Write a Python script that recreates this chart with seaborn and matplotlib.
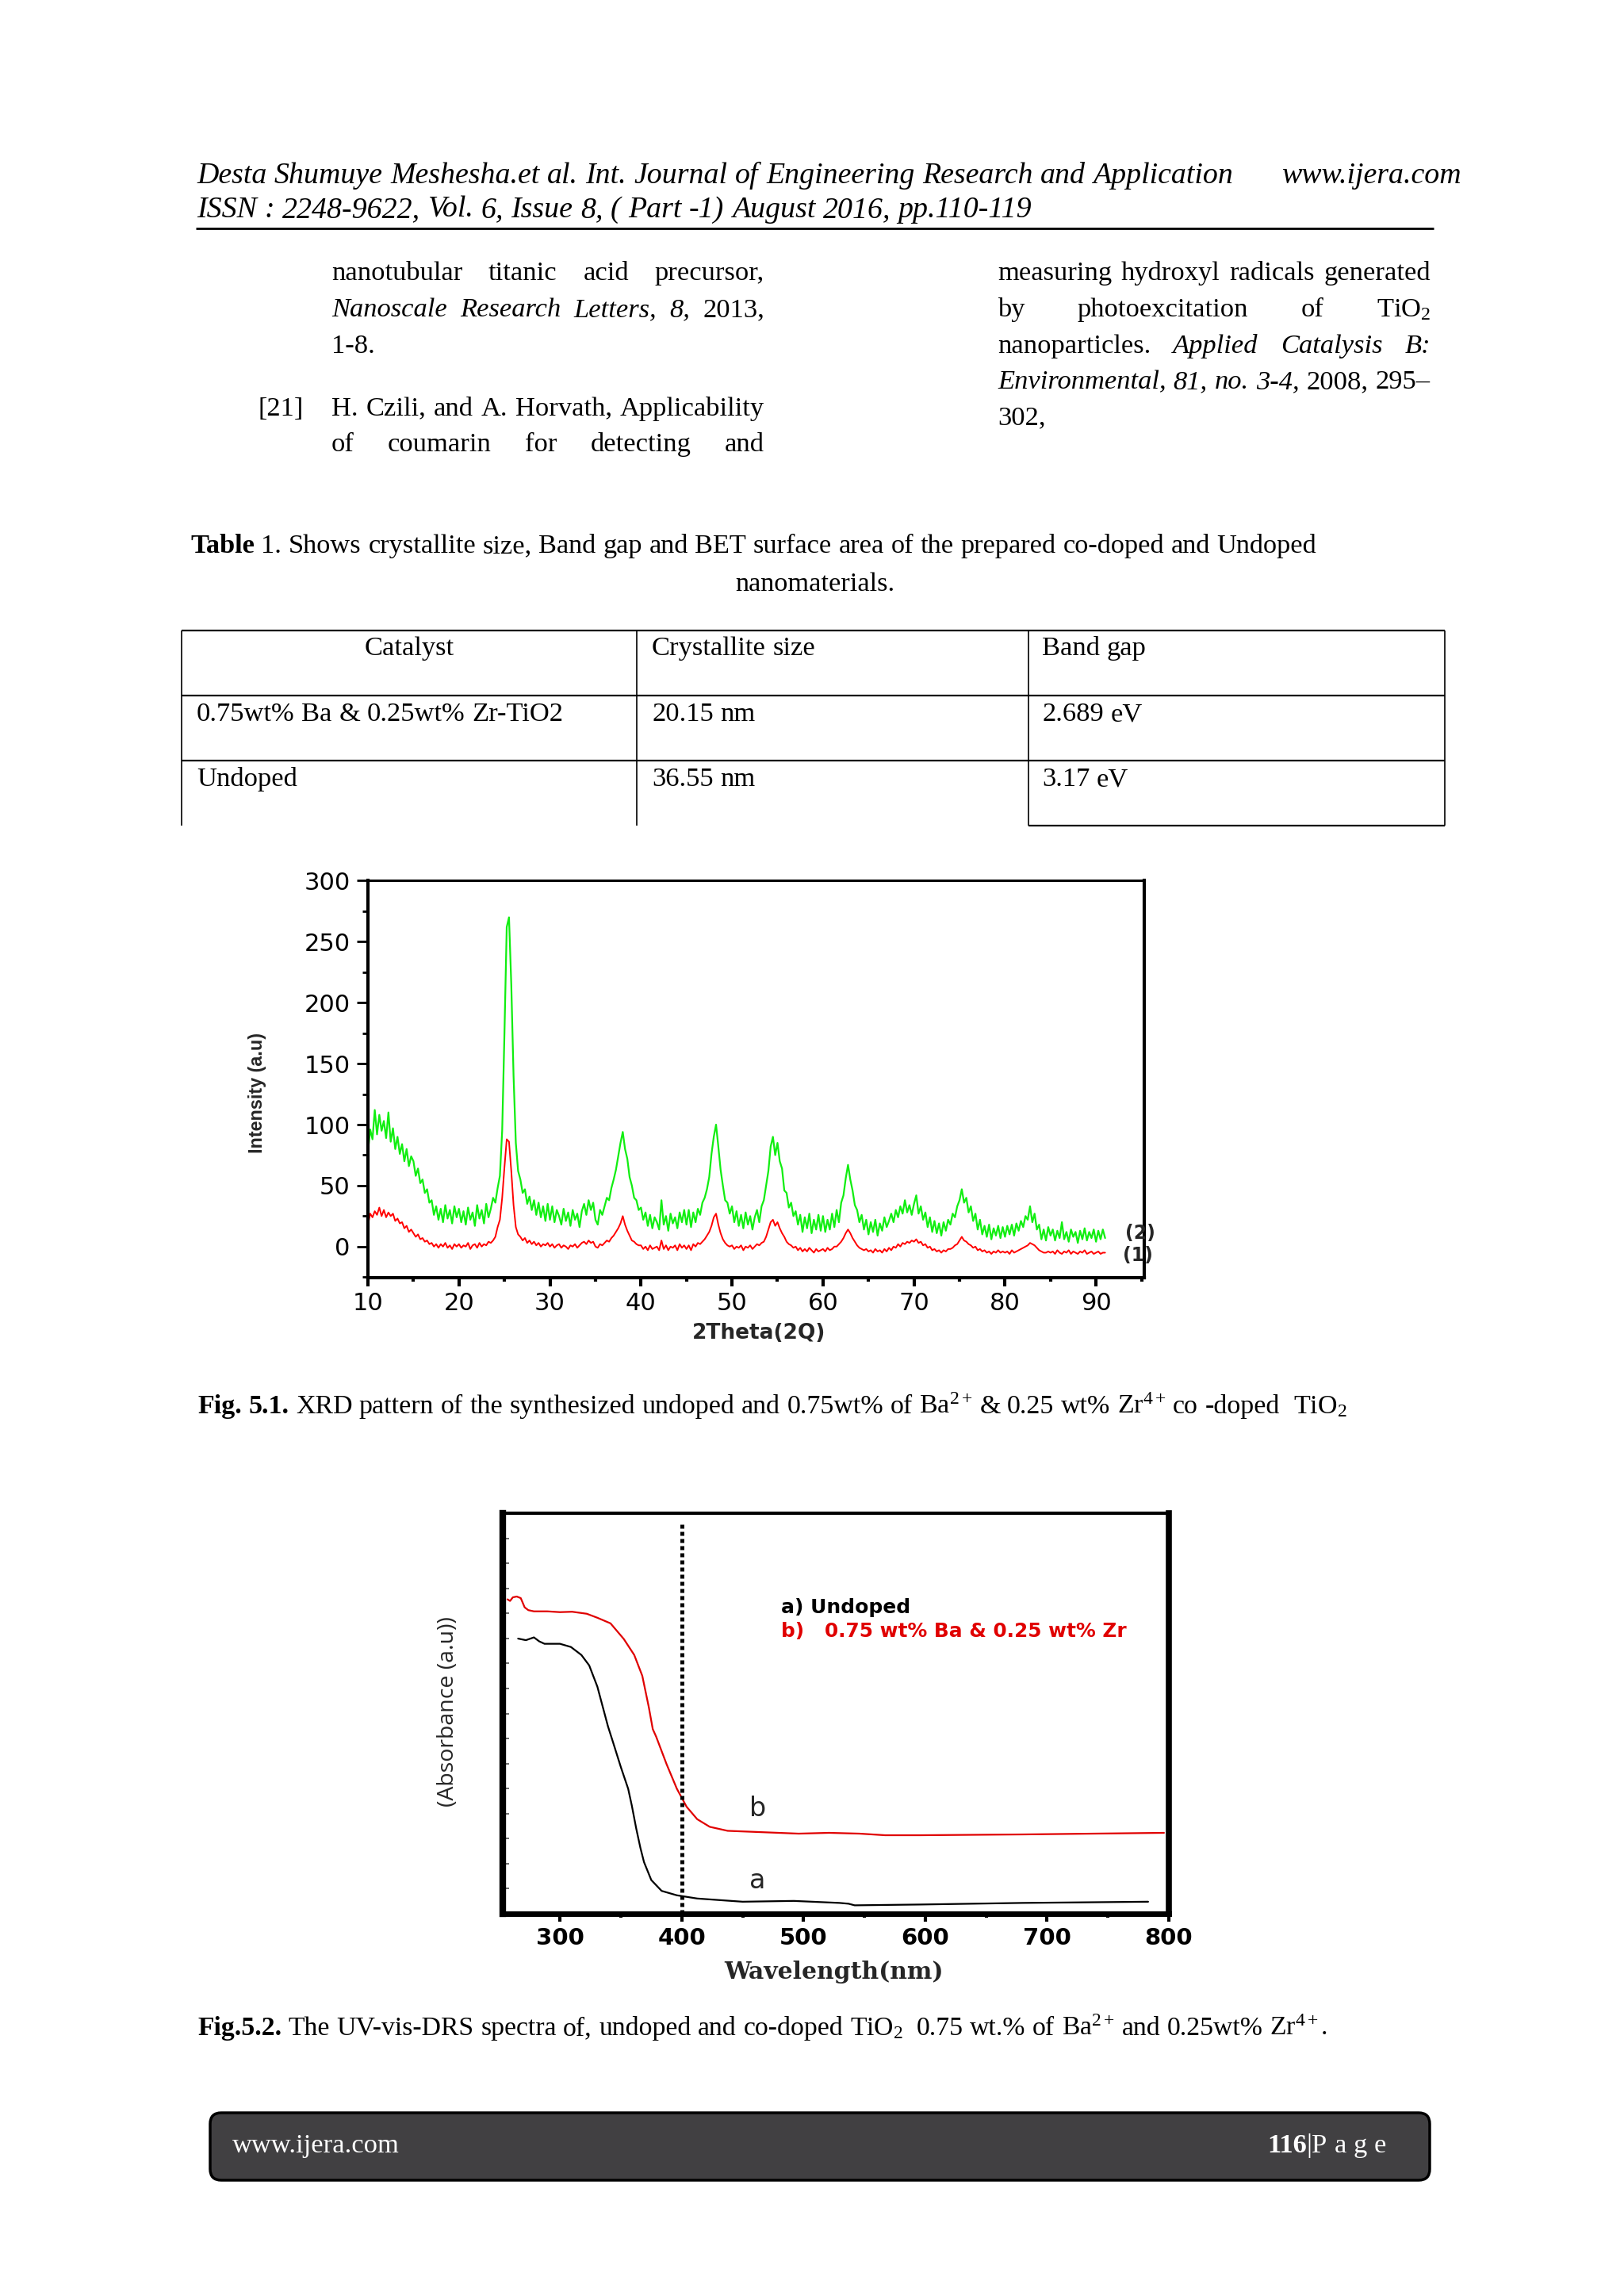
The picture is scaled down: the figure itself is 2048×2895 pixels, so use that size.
import numpy as np
import matplotlib
matplotlib.use("Agg")
import matplotlib.pyplot as plt
import matplotlib.transforms as mtransforms
from matplotlib.lines import Line2D
from matplotlib.patches import FancyBboxPatch
from matplotlib.ticker import MultipleLocator
import seaborn as sns

# ---------------------------------------------------------------- data
# XRD: 2-theta grid (0.25 deg) and the two patterns
two_theta = np.arange(10, 91.001, 0.25)

pattern_2 = [  # green, upper curve "(2)"
    78, 96, 88, 112, 92, 108, 95, 103, 89, 110, 86, 97, 80, 90, 76, 84, 70, 80, 66, 74,
    70, 58, 64, 52, 55, 44, 47, 36, 38, 26, 33, 22, 31, 20, 34, 23, 30, 19, 33, 24,
    31, 20, 29, 18, 32, 22, 28, 17, 34, 23, 30, 19, 35, 24, 31, 40, 36, 48, 58, 95,
    175, 262, 270, 215, 140, 85, 62, 55, 44, 47, 35, 41, 30, 38, 26, 36, 24, 33, 21, 35,
    22, 33, 20, 30, 25, 18, 31, 21, 28, 17, 30, 22, 27, 16, 29, 35, 26, 38, 30, 36,
    22, 18, 30, 26, 33, 40, 38, 48, 55, 63, 74, 85, 94, 80, 72, 57, 50, 40, 38, 30,
    32, 22, 28, 17, 26, 15, 24, 20, 14, 38, 18, 25, 13, 27, 19, 24, 15, 28, 20, 30,
    18, 30, 16, 28, 20, 31, 26, 36, 40, 47, 57, 76, 90, 100, 82, 63, 50, 38, 36, 27,
    33, 20, 29, 17, 26, 15, 28, 18, 25, 14, 24, 30, 20, 33, 38, 50, 62, 82, 90, 75,
    85, 70, 64, 46, 44, 32, 36, 25, 29, 18, 26, 12, 24, 15, 27, 11, 22, 14, 26, 13,
    25, 12, 22, 14, 27, 16, 30, 20, 36, 42, 56, 67, 55, 46, 34, 30, 20, 26, 14, 22,
    10, 20, 12, 22, 9, 19, 13, 24, 16, 21, 27, 20, 30, 24, 33, 27, 38, 28, 34, 26,
    35, 42, 27, 33, 22, 28, 16, 24, 12, 21, 11, 19, 9, 20, 13, 22, 18, 27, 24, 33,
    38, 47, 36, 40, 28, 33, 21, 27, 14, 22, 10, 17, 8, 18, 6, 15, 9, 17, 7, 16,
    8, 17, 10, 18, 9, 19, 13, 21, 16, 25, 22, 33, 20, 27, 14, 18, 6, 14, 5, 16,
    9, 14, 5, 13, 7, 20, 6, 12, 4, 14, 8, 12, 3, 13, 6, 15, 5, 12, 7, 14,
    4, 13, 6, 14, 7,
]

pattern_1 = [  # red, lower curve "(1)"
    18, 27, 24, 29, 26, 32, 25, 30, 24, 28, 25, 27, 21, 23, 19, 20, 15, 17, 12, 14,
    11, 8, 10, 6, 7, 4, 5, 2, 3, 0, 2, -1, 2, 0, 3, -1, 1, -2, 2, 0,
    2, -1, 1, 0, 3, -2, 1, 2, -1, 3, 0, 2, 1, 4, 3, 5, 8, 16, 22, 40,
    65, 88, 86, 62, 34, 16, 10, 8, 5, 7, 3, 5, 2, 4, 1, 3, 0, 2, 1, 3,
    0, 2, -1, 1, 2, -1, 1, 0, -2, 1, 0, 2, -1, 1, 3, 4, 2, 5, 3, 4,
    0, -1, 2, 1, 3, 5, 4, 7, 9, 12, 15, 19, 25, 18, 13, 9, 5, 4, 2, 1,
    1, -2, 0, -3, 1, -2, -1, 0, -3, 5, -2, 1, -3, 0, -1, 1, -3, 2, -1, 1,
    -2, 1, -3, 2, 0, 3, 2, 4, 6, 9, 12, 17, 24, 27, 18, 11, 6, 3, 1, 0,
    1, -2, 0, -1, 1, -3, 0, -1, 1, -2, 0, 2, 1, 3, 4, 8, 14, 20, 22, 17,
    20, 15, 11, 8, 4, 2, 1, -1, 0, -3, -1, -4, -2, -4, -1, -3, -5, -2, -4, -3,
    -2, -4, -1, -3, -2, 0, 0, 2, 4, 7, 11, 14, 11, 7, 4, 1, -1, -2, -3, -2,
    -4, -3, -5, -2, -4, -3, -5, -2, -4, -1, -3, 0, -1, 2, 0, 3, 2, 4, 3, 5,
    4, 6, 3, 4, 1, 2, -1, 0, -3, -2, -4, -3, -5, -3, -4, -2, -2, -1, 1, 2,
    5, 8, 5, 4, 2, 1, -1, 0, -3, -2, -4, -3, -5, -4, -6, -4, -5, -3, -5, -4,
    -5, -4, -6, -3, -5, -4, -3, -2, -1, 0, 1, 3, 2, 1, -1, -3, -4, -5, -5, -4,
    -5, -4, -6, -3, -5, -6, -4, -5, -3, -6, -4, -5, -6, -4, -5, -3, -6, -5, -4, -6,
    -5, -4, -6, -5, -5,
]

# UV-vis DRS (arbitrary absorbance units)
wl_a = [265.6, 272, 278.6, 283, 287.3, 300, 309, 317.6, 324, 330.7, 339.4, 343.8,
        350, 356, 359, 362.6, 366, 369, 375, 383.5, 396, 412.7, 450, 492, 529.5,
        537, 542, 596, 680, 783]
abs_a = [0.687, 0.683, 0.690, 0.680, 0.674, 0.674, 0.666, 0.646, 0.620, 0.567, 0.468, 0.426,
         0.366, 0.312, 0.270, 0.213, 0.165, 0.129, 0.084, 0.057, 0.046, 0.038, 0.030, 0.032, 0.027,
         0.025, 0.021, 0.023, 0.027, 0.030]
wl_b = [256.9, 259, 261.3, 264.5, 267.8, 271, 274, 278.6, 289.5, 300, 310, 322, 330.7,
        341.5, 352.4, 361, 367.6, 373, 376.2, 379, 387.6, 396, 404, 412.7, 423, 437.7,
        471, 496, 521, 546, 567, 596, 680, 796]
abs_b = [0.785, 0.781, 0.790, 0.792, 0.788, 0.765, 0.758, 0.755, 0.755, 0.753, 0.754, 0.749, 0.739,
         0.725, 0.686, 0.646, 0.594, 0.515, 0.461, 0.442, 0.373, 0.312, 0.267, 0.236, 0.217, 0.207,
         0.203, 0.200, 0.202, 0.200, 0.196, 0.196, 0.198, 0.202]
cutoff_nm = 400

xrd_xticks = [10, 20, 30, 40, 50, 60, 70, 80, 90]
xrd_yticks = [0, 50, 100, 150, 200, 250, 300]
uv_xticks = [300, 400, 500, 600, 700, 800]

table_header = ["Catalyst", "Crystallite size", "Band gap"]
table_rows = [["0.75wt% Ba & 0.25wt% Zr-TiO2", "20.15 nm", "2.689 eV"],
              ["Undoped", "36.55 nm", "3.17 eV"]]

# ---------------------------------------------------------------- style
sns.set_style("ticks")
plt.rcParams["font.family"] = ["Liberation Serif", "DejaVu Serif"]
plt.rcParams["mathtext.fontset"] = "custom"
plt.rcParams["mathtext.rm"] = "Liberation Serif"
plt.rcParams["mathtext.it"] = "Liberation Serif:italic"
plt.rcParams["mathtext.bf"] = "Liberation Serif:bold"

W, H = 2048, 2895
fig = plt.figure(figsize=(W / 100, H / 100), dpi=100)
fig.patch.set_facecolor("white")
renderer = fig.canvas.get_renderer()
page = mtransforms.Affine2D().scale(1 / 100, -1 / 100).translate(0, H / 100) + fig.dpi_scale_trans

SERIF = "Liberation Serif"
STY = {"r": dict(style="normal", weight="normal"),
       "i": dict(style="italic", weight="normal"),
       "b": dict(style="normal", weight="bold")}
BODY = 24.8


def tw(s, size, st):
    if s == "":
        return 0.0
    t = fig.text(0, 0, s, fontsize=size, family=SERIF, **STY[st])
    w = t.get_window_extent(renderer).width
    t.remove()
    return w


def space_w(size, st="r"):
    return tw("x x", size, st) - tw("xx", size, st)


def items_of(runs):
    items = []
    for text, st in runs:
        for i, piece in enumerate(text.split(" ")):
            items.append((piece, st, i > 0))
    return items


def natural_width(runs, size):
    items = items_of(runs)
    return sum(tw(p, size, st) for p, st, _ in items) + sum(1 for it in items if it[2]) * space_w(size)


def draw_runs(x, y, runs, size=BODY, justify=None, align="left", color="black"):
    items = items_of(runs)
    widths = [tw(p, size, st) for p, st, _ in items]
    ngaps = sum(1 for it in items if it[2])
    sp = space_w(size)
    total = sum(widths) + ngaps * sp
    if justify is not None and ngaps:
        sp = (justify - x - sum(widths)) / ngaps
        total = justify - x
    if align == "right":
        x = x - total
    elif align == "center":
        x = x - total / 2
    cx = x
    for (p, st, g), w in zip(items, widths):
        if g:
            cx += sp
        if p:
            fig.text(cx, y, p, transform=page, fontsize=size, family=SERIF,
                     ha="left", va="baseline", color=color, **STY[st])
        cx += w


def fit(runs, width, base=BODY):
    return base * width / natural_width(runs, base)


def hline(x0, x1, y, lw=1.4):
    fig.add_artist(Line2D([x0, x1], [y, y], transform=page, color="black", lw=lw, solid_capstyle="butt"))


def vline(x, y0, y1, lw=1.4):
    fig.add_artist(Line2D([x, x], [y0, y1], transform=page, color="black", lw=lw, solid_capstyle="butt"))


# ---------------------------------------------------------------- header
h1 = [("Desta Shumuye Meshesha.et al. Int. Journal of Engineering Research and Application", "i")]
hsize = fit(h1, 1308)
draw_runs(248, 231, h1, hsize)
draw_runs(1843, 231, [("www.ijera.com", "i")], hsize, align="right")
draw_runs(248, 274, [("ISSN : 2248-9622, Vol. 6, Issue 8, ( Part -1) August 2016, pp.110-119", "i")], hsize)
hline(247, 1808, 288, lw=2.0)

# ---------------------------------------------------------------- references
L0, L1 = 418, 964
R0, R1 = 1258, 1804
draw_runs(L0, 353, [("nanotubular titanic acid precursor,", "r")], justify=L1)
draw_runs(L0, 399, [("Nanoscale Research Letters, 8,", "i"), (" 2013,", "r")], justify=L1)
draw_runs(L0, 445, [("1-8.", "r")])
draw_runs(326, 524, [("[21]", "r")])
draw_runs(L0, 524, [("H. Czili, and A. Horvath, Applicability", "r")], justify=L1)
draw_runs(L0, 569, [("of coumarin for detecting and", "r")], justify=L1)

draw_runs(R0, 353, [("measuring hydroxyl radicals generated", "r")], justify=R1)
draw_runs(R0, 399, [("by photoexcitation of TiO$_2$", "r")], justify=R1)
draw_runs(R0, 445, [("nanoparticles.", "r"), (" Applied Catalysis B:", "i")], justify=R1)
draw_runs(R0, 490, [("Environmental, 81, no. 3-4,", "i"), (" 2008, 295\u2013", "r")], justify=R1)
draw_runs(R0, 535, [("302,", "r")])

# ---------------------------------------------------------------- table
cap1 = [("Table", "b"), (" 1. Shows crystallite size, Band gap and BET surface area of the prepared co-doped and Undoped", "r")]
csize = fit(cap1, 1427)
draw_runs(240, 697, cap1, csize)
draw_runs(1028, 745, [("nanomaterials.", "r")], csize, align="center")

col_x = [229, 803, 1297, 1822]
row_y = [795, 877, 959, 1041]
hline(col_x[0], col_x[3], row_y[0], lw=1.6)
hline(col_x[0], col_x[3], row_y[1], lw=1.6)
hline(col_x[0], col_x[3], row_y[2], lw=1.6)
hline(col_x[2], col_x[3], row_y[3], lw=1.6)
for cx in col_x:
    vline(cx, row_y[0], row_y[3], lw=1.2)

draw_runs((col_x[0] + col_x[1]) / 2, 826, [(table_header[0], "r")], align="center")
draw_runs(822, 826, [(table_header[1], "r")])
draw_runs(1314, 826, [(table_header[2], "r")])
for r, base in zip(table_rows, [909, 991]):
    draw_runs(248, base, [(r[0], "r")])
    draw_runs(822, base, [(r[1], "r")])
    draw_runs(1314, base, [(r[2], "r")])

# ---------------------------------------------------------------- XRD plot
ax1 = fig.add_axes([464 / W, 1 - 1611 / H, 979 / W, 500.5 / H])
sns.lineplot(x=two_theta, y=pattern_2, ax=ax1, color="#11ee11", lw=1.6, estimator=None, sort=False)
sns.lineplot(x=two_theta, y=pattern_1, ax=ax1, color="#ff0000", lw=1.4, estimator=None, sort=False)
ax1.set_xlim(10, 95.3)
ax1.set_ylim(-25.5, 300)
ax1.set_xticks(xrd_xticks)
ax1.set_yticks(xrd_yticks)
ax1.xaxis.set_minor_locator(MultipleLocator(5))
ax1.yaxis.set_minor_locator(MultipleLocator(25))
for name, sp in ax1.spines.items():
    sp.set_color("black")
    sp.set_linewidth(2.2 if name == "top" else 3.0)
ax1.tick_params(axis="x", which="major", direction="out", length=8, width=3, pad=5,
                labelsize=22, colors="black", labelfontfamily="DejaVu Sans")
ax1.tick_params(axis="x", which="minor", direction="out", length=3.5, width=3, colors="black")
ax1.tick_params(axis="y", which="major", direction="out", length=10, width=2, pad=6,
                labelsize=22, colors="black", labelfontfamily="DejaVu Sans")
ax1.tick_params(axis="y", which="minor", direction="out", length=5, width=2, colors="black")
ax1.set_xlabel("")
ax1.set_ylabel("")
ax1.text(-0.143, 0.4655, "Intensity (a.u)", transform=ax1.transAxes, rotation=90, ha="center",
         va="center", fontsize=16.8, fontweight="bold", family="Liberation Sans")
ax1.text(0.5036, -0.14, "2Theta(2Q)", transform=ax1.transAxes, ha="center", va="center",
         fontsize=19, fontweight="bold", family="DejaVu Sans")
ax1.text(94.9, 11, "(2)", ha="center", va="center", fontsize=17, fontweight="bold",
         family="DejaVu Sans", clip_on=False)
ax1.text(94.6, -7, "(1)", ha="center", va="center", fontsize=17, fontweight="bold",
         family="DejaVu Sans", clip_on=False)

cap51 = [("Fig. 5.1.", "b"),
         (" XRD pattern of the synthesized undoped and 0.75wt% of Ba$^{2+}$ & 0.25 wt% Zr$^{4+}$ co -doped  TiO$_2$", "r")]
draw_runs(249, 1782, cap51, fit(cap51, 1454))

# ---------------------------------------------------------------- UV-vis plot
ax2 = fig.add_axes([634 / W, 1 - 2413 / H, 840 / W, 505 / H])
sns.lineplot(x=wl_a, y=abs_a, ax=ax2, color="black", lw=1.6, estimator=None, sort=False)
sns.lineplot(x=wl_b, y=abs_b, ax=ax2, color="#e00000", lw=1.6, estimator=None, sort=False)
ax2.axvline(cutoff_nm, ymin=0, ymax=0.98, color="black", lw=3.6, linestyle=(0, (1, 0.8)))
ax2.set_xlim(253, 800)
ax2.set_ylim(0, 1)
ax2.set_xticks(uv_xticks)
ax2.set_xticklabels([str(v) for v in uv_xticks], fontweight="bold", fontfamily="DejaVu Sans", fontsize=21)
ax2.xaxis.set_minor_locator(MultipleLocator(50))
ax2.yaxis.set_major_locator(MultipleLocator(1 / 16))
widths = {"left": 6.0, "right": 5.5, "bottom": 5.0, "top": 3.0}
for name, sp in ax2.spines.items():
    sp.set_color("black")
    sp.set_linewidth(widths[name])
ax2.tick_params(axis="x", which="major", direction="out", length=7, width=3, pad=5, colors="black")
ax2.tick_params(axis="x", which="minor", direction="out", length=3.5, width=3, colors="black")
ax2.tick_params(axis="y", which="major", direction="in", length=6, width=1.2, colors="#555555",
                labelleft=False)
ax2.set_xlabel("")
ax2.set_ylabel("")
ax2.text(481.5, 0.764, "a) Undoped", ha="left", va="center", fontsize=18, fontweight="bold",
         family="DejaVu Sans", color="black")
ax2.text(481.5, 0.705, "b)   0.75 wt% Ba & 0.25 wt% Zr", ha="left", va="center", fontsize=17.8,
         fontweight="bold", family="DejaVu Sans", color="#e00000")
ax2.text(462.4, 0.263, "b", ha="center", va="center", fontsize=24, family="DejaVu Sans")
ax2.text(462.4, 0.083, "a", ha="center", va="center", fontsize=24, family="DejaVu Sans")
ax2.text(0.4976, -0.1446, "Wavelength(nm)", transform=ax2.transAxes, ha="center", va="center",
         fontsize=21.5, fontweight="bold", family="DejaVu Serif")
ax2.text(-0.0821, 0.505, "(Absorbance (a.u))", transform=ax2.transAxes, rotation=90, ha="center",
         va="center", fontsize=20.5, family=["Open Sans", "DejaVu Sans"])

cap52 = [("Fig.5.2.", "b"),
         (" The UV-vis-DRS spectra of, undoped and co-doped TiO$_2$  0.75 wt.% of Ba$^{2+}$ and 0.25wt% Zr$^{4+}$.", "r")]
draw_runs(249, 2566, cap52, fit(cap52, 1431))

# ---------------------------------------------------------------- footer
box = FancyBboxPatch((265, 2664), 1538, 85, boxstyle="round,pad=0,rounding_size=14",
                     transform=page, facecolor="#414042", edgecolor="black", lw=2.5)
fig.add_artist(box)
draw_runs(293, 2714, [("www.ijera.com", "r")], color="white")
draw_runs(1748, 2714, [("116", "b"), ("|P a g e", "r")], align="right", color="white")

fig.savefig("out.png", dpi=100, facecolor="white")
